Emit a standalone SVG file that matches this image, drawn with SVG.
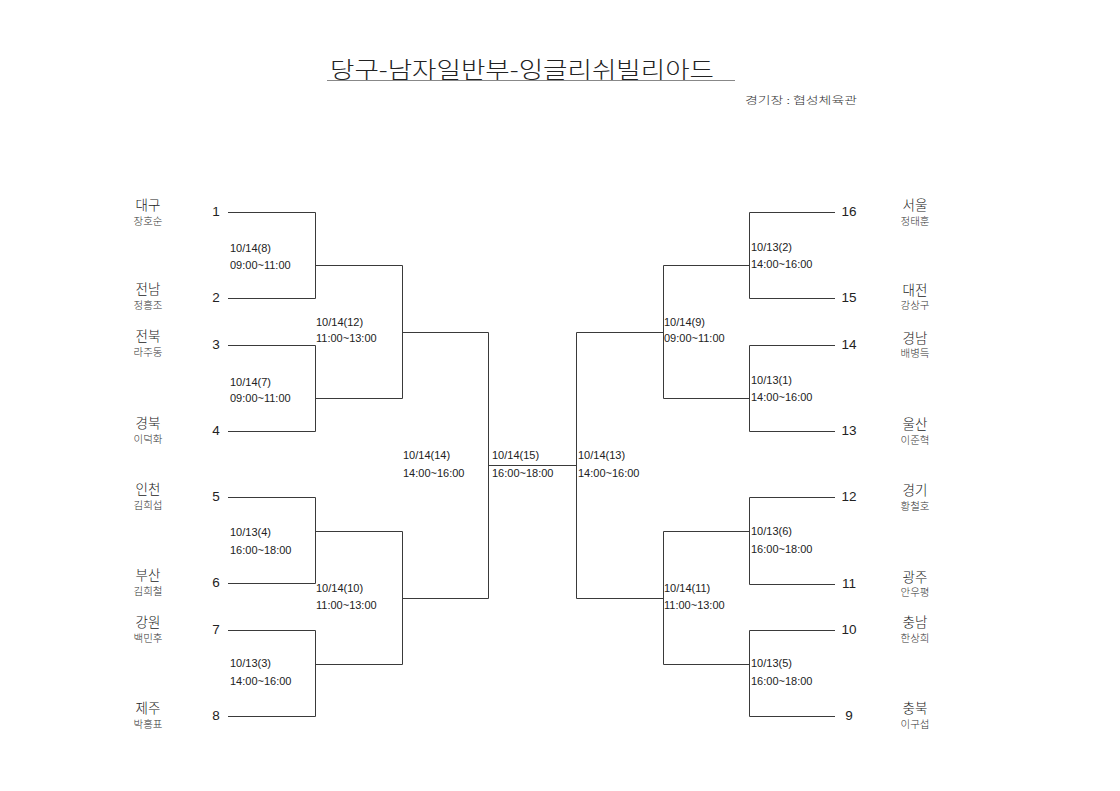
<svg xmlns="http://www.w3.org/2000/svg" width="1120" height="791" viewBox="0 0 1120 791">
<style>
.ln{stroke:#3a3a3a;stroke-width:1;fill:none}
.team{font-family:"Noto Sans CJK KR","Liberation Sans",sans-serif;font-size:13.5px;font-weight:300;fill:#222;text-anchor:middle}
.player{font-family:"Noto Sans CJK KR","Liberation Sans",sans-serif;font-size:10.5px;font-weight:300;fill:#333;text-anchor:middle}
.num{font-family:"Liberation Sans",sans-serif;font-size:13.5px;fill:#222;text-anchor:middle}
.lbl{font-family:"Liberation Sans",sans-serif;font-size:11px;fill:#222}
.title{font-family:"Noto Sans CJK KR","Liberation Sans",sans-serif;font-size:23px;font-weight:300;fill:#222}
.sub{font-family:"Noto Sans CJK KR","Liberation Sans",sans-serif;font-size:10px;font-weight:300;fill:#333}
</style>
<rect width="1120" height="791" fill="#fff"/>
<g id="title">
<text class="title" x="330" y="78" textLength="384" lengthAdjust="spacingAndGlyphs">당구-남자일반부-잉글리쉬빌리아드</text>
<line x1="327" y1="80.5" x2="735" y2="80.5" stroke="#888" stroke-width="1"/>
<text class="sub" x="745" y="104" textLength="112" lengthAdjust="spacingAndGlyphs">경기장 : 협성체육관</text>
</g>
<g id="connectors">
<path class="ln" d="M228 212.5H315.5V298.5H228M315.5 265.5H402.5"/>
<path class="ln" d="M228 345.5H315.5V431.5H228M315.5 398.5H402.5"/>
<path class="ln" d="M228 497.5H315.5V583.5H228M315.5 531.5H402.5"/>
<path class="ln" d="M228 630.5H315.5V716.5H228M315.5 664.5H402.5"/>
<path class="ln" d="M402.5 265.5V398.5M402.5 332.5H488.5"/>
<path class="ln" d="M402.5 531.5V664.5M402.5 598.5H488.5"/>
<path class="ln" d="M488.5 332.5V598.5M488.5 465.5H576.5M576.5 332.5V598.5"/>
<path class="ln" d="M835 212.5H749.5V298.5H835M749.5 265.5H663.5"/>
<path class="ln" d="M835 345.5H749.5V431.5H835M749.5 398.5H663.5"/>
<path class="ln" d="M835 497.5H749.5V584.5H835M749.5 531.5H663.5"/>
<path class="ln" d="M835 630.5H749.5V716.5H835M749.5 664.5H663.5"/>
<path class="ln" d="M663.5 265.5V398.5M663.5 332.5H576.5"/>
<path class="ln" d="M663.5 531.5V664.5M663.5 598.5H576.5"/>
</g>
<g id="team-1"><text class="team" x="148" y="210">대구</text><text class="player" x="148" y="225">장호순</text><text class="num" x="216" y="216">1</text></g>
<g id="team-2"><text class="team" x="148" y="294">전남</text><text class="player" x="148" y="309">정흥조</text><text class="num" x="216" y="302">2</text></g>
<g id="team-3"><text class="team" x="148" y="341">전북</text><text class="player" x="148" y="356">라주동</text><text class="num" x="216" y="349">3</text></g>
<g id="team-4"><text class="team" x="148" y="428">경북</text><text class="player" x="148" y="443">이덕화</text><text class="num" x="216" y="435">4</text></g>
<g id="team-5"><text class="team" x="148" y="494">인천</text><text class="player" x="148" y="509">김희섭</text><text class="num" x="216" y="501">5</text></g>
<g id="team-6"><text class="team" x="148" y="580">부산</text><text class="player" x="148" y="595">김희철</text><text class="num" x="216" y="587">6</text></g>
<g id="team-7"><text class="team" x="148" y="627">강원</text><text class="player" x="148" y="642">백민후</text><text class="num" x="216" y="634">7</text></g>
<g id="team-8"><text class="team" x="148" y="713">제주</text><text class="player" x="148" y="728">박홍표</text><text class="num" x="216" y="720">8</text></g>
<g id="team-16"><text class="team" x="915" y="210">서울</text><text class="player" x="915" y="225">정태훈</text><text class="num" x="849" y="216">16</text></g>
<g id="team-15"><text class="team" x="915" y="295">대전</text><text class="player" x="915" y="309">강상구</text><text class="num" x="849" y="302">15</text></g>
<g id="team-14"><text class="team" x="915" y="343">경남</text><text class="player" x="915" y="357">배병득</text><text class="num" x="849" y="349">14</text></g>
<g id="team-13"><text class="team" x="915" y="429">울산</text><text class="player" x="915" y="444">이준혁</text><text class="num" x="849" y="435">13</text></g>
<g id="team-12"><text class="team" x="915" y="495">경기</text><text class="player" x="915" y="510">황철호</text><text class="num" x="849" y="501">12</text></g>
<g id="team-11"><text class="team" x="915" y="582">광주</text><text class="player" x="915" y="596">안우평</text><text class="num" x="849" y="588">11</text></g>
<g id="team-10"><text class="team" x="915" y="627">충남</text><text class="player" x="915" y="642">한상희</text><text class="num" x="849" y="634">10</text></g>
<g id="team-9"><text class="team" x="915" y="713">충북</text><text class="player" x="915" y="728">이구섭</text><text class="num" x="849" y="720">9</text></g>
<g id="match-8"><text class="lbl" x="230" y="252">10/14(8)</text><text class="lbl" x="230" y="269">09:00~11:00</text></g>
<g id="match-7"><text class="lbl" x="230" y="386">10/14(7)</text><text class="lbl" x="230" y="402">09:00~11:00</text></g>
<g id="match-4"><text class="lbl" x="230" y="536">10/13(4)</text><text class="lbl" x="230" y="554">16:00~18:00</text></g>
<g id="match-3"><text class="lbl" x="230" y="667">10/13(3)</text><text class="lbl" x="230" y="685">14:00~16:00</text></g>
<g id="match-12"><text class="lbl" x="316" y="326">10/14(12)</text><text class="lbl" x="316" y="342">11:00~13:00</text></g>
<g id="match-10"><text class="lbl" x="316" y="592">10/14(10)</text><text class="lbl" x="316" y="609">11:00~13:00</text></g>
<g id="match-14"><text class="lbl" x="403" y="459">10/14(14)</text><text class="lbl" x="403" y="477">14:00~16:00</text></g>
<g id="match-15"><text class="lbl" x="492" y="459">10/14(15)</text><text class="lbl" x="492" y="477">16:00~18:00</text></g>
<g id="match-13"><text class="lbl" x="578" y="459">10/14(13)</text><text class="lbl" x="578" y="477">14:00~16:00</text></g>
<g id="match-9"><text class="lbl" x="664" y="326">10/14(9)</text><text class="lbl" x="664" y="342">09:00~11:00</text></g>
<g id="match-11"><text class="lbl" x="664" y="592">10/14(11)</text><text class="lbl" x="664" y="609">11:00~13:00</text></g>
<g id="match-2"><text class="lbl" x="751" y="251">10/13(2)</text><text class="lbl" x="751" y="268">14:00~16:00</text></g>
<g id="match-1"><text class="lbl" x="751" y="384">10/13(1)</text><text class="lbl" x="751" y="401">14:00~16:00</text></g>
<g id="match-6"><text class="lbl" x="751" y="535">10/13(6)</text><text class="lbl" x="751" y="553">16:00~18:00</text></g>
<g id="match-5"><text class="lbl" x="751" y="667">10/13(5)</text><text class="lbl" x="751" y="685">16:00~18:00</text></g>
</svg>
